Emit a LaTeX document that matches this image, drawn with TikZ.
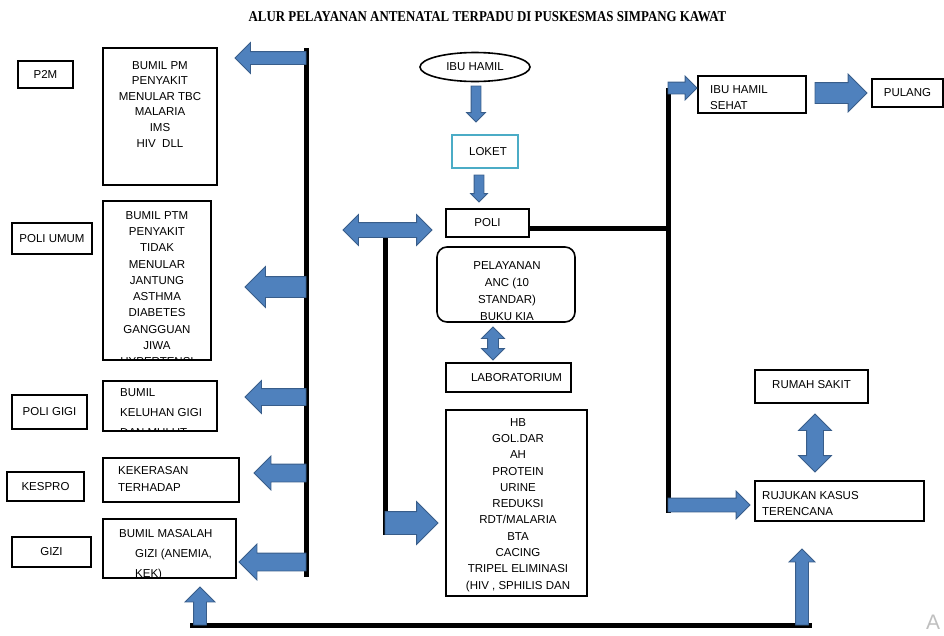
\documentclass[tikz,border=0pt]{standalone}
\usepackage{fontspec}
\setmainfont{Liberation Sans}
\newfontfamily\judulfont{Liberation Serif}[FakeStretch=0.86]
\usepackage{tikz}
\usetikzlibrary{calc}
\usetikzlibrary{positioning}
\usetikzlibrary{shapes.geometric}
\usetikzlibrary{shapes.arrows}
\usetikzlibrary{backgrounds}

\definecolor{biru}{RGB}{79,129,189}
\definecolor{biruTua}{RGB}{56,93,138}
\definecolor{tosca}{RGB}{75,172,198}

\tikzset{
    kotak/.style={rectangle, draw=black, line width=1.6pt, inner sep=0pt, outer sep=0pt},
    teks/.style={font=\fontsize{11.5}{16.3}\selectfont, inner sep=0pt},
    blok/.style={single arrow, draw=biruTua, fill=biru, line width=0.8pt, outer sep=0pt, anchor=tail},
    blokdua/.style={double arrow, draw=biruTua, fill=biru, line width=0.8pt, outer sep=0pt},
    garis/.style={line width=5pt, black}
}

\begin{document}
\begin{tikzpicture}[x=1pt, y=-1pt]
    \useasboundingbox (0,0) rectangle (944,635);

    \node [font=\judulfont\bfseries\fontsize{15}{15}\selectfont, inner sep=0pt] (judul) at (487.5,16.5) {ALUR PELAYANAN ANTENATAL TERPADU DI PUSKESMAS SIMPANG KAWAT};

    % kolom kiri
    \node [kotak, teks, minimum width=55pt, minimum height=27pt] (p2m) at (45.5,74.5) {P2M};
    \node [kotak, teks, minimum width=80pt, minimum height=31pt] (poliUmum) at (52,238.5) {POLI UMUM};
    \node [kotak, teks, minimum width=75pt, minimum height=34pt] (poliGigi) at (49.5,412) {POLI GIGI};
    \node [kotak, teks, minimum width=77pt, minimum height=29pt] (kespro) at (45.5,486.5) {KESPRO};
    \node [kotak, teks, minimum width=79pt, minimum height=30pt] (gizi) at (51.5,552) {GIZI};

    \node [kotak, minimum width=114pt, minimum height=137pt] (bumilPM) at (160,116.5) {};
    \node [teks, align=center, anchor=north, font=\fontsize{11.5}{15.6}\selectfont] (teksPM) at (160,61) {BUMIL PM\\PENYAKIT\\MENULAR TBC\\MALARIA\\IMS\\HIV\ \ DLL};

    \node [kotak, minimum width=108pt, minimum height=159pt] (bumilPTM) at (157,280.5) {};
    \begin{scope}
        \clip (bumilPTM.south west) rectangle (bumilPTM.north east);
        \node [teks, align=center, anchor=north] (teksPTM) at (157,211) {BUMIL PTM\\PENYAKIT\\TIDAK\\MENULAR\\JANTUNG\\ASTHMA\\DIABETES\\GANGGUAN\\JIWA\\HYPERTENSI};
    \end{scope}

    \node [kotak, minimum width=114pt, minimum height=50pt] (bumilGigi) at (160,406) {};
    \begin{scope}
        \clip (bumilGigi.south west) rectangle (bumilGigi.north east);
        \node [teks, align=left, anchor=north west, font=\fontsize{11.5}{20}\selectfont] (teksGigi) at (120,388) {BUMIL\\KELUHAN GIGI\\DAN MULUT};
    \end{scope}

    \node [kotak, minimum width=136pt, minimum height=44pt] (kekerasan) at (171,480) {};
    \node [teks, align=left, anchor=north west, font=\fontsize{11.5}{17}\selectfont] (teksKekerasan) at (118,466) {KEKERASAN\\TERHADAP};

    \node [kotak, minimum width=133pt, minimum height=59pt] (bumilGizi) at (169.5,548.5) {};
    \begin{scope}
        \clip (bumilGizi.south west) rectangle (bumilGizi.north east);
        \node [teks, align=left, anchor=north west, font=\fontsize{11.5}{20}\selectfont] (teksGizi) at (119,529) {BUMIL MASALAH\\\hspace*{16pt}GIZI (ANEMIA,\\\hspace*{16pt}KEK)};
    \end{scope}

    % alur tengah
    \node [ellipse, draw=black, line width=1.6pt, teks, minimum width=110pt, minimum height=29pt] (ibuHamil) at (475,67) {IBU HAMIL};
    \node [kotak, draw=tosca, teks, minimum width=66pt, minimum height=33pt] (loket) at (485,151.5) {\hspace{6pt}LOKET};
    \node [kotak, teks, minimum width=83pt, minimum height=28pt] (poli) at (487.5,223) {POLI};

    \node [kotak, rounded corners=10pt, minimum width=138pt, minimum height=75pt] (anc) at (506,284.5) {};
    \begin{scope}
        \clip (anc.south west) rectangle (anc.north east);
        \node [teks, align=center, anchor=north, font=\fontsize{11.5}{17}\selectfont] (teksAnc) at (507,261) {PELAYANAN\\ANC (10\\STANDAR)\\BUKU KIA};
    \end{scope}

    \node [kotak, teks, minimum width=125pt, minimum height=29pt] (lab) at (508.5,377.5) {\hspace{16pt}LABORATORIUM};

    \node [kotak, minimum width=141pt, minimum height=186pt] (hb) at (516.5,503) {};
    \node [teks, align=center, anchor=north] (teksHb) at (518,418) {HB\\GOL.DAR\\AH\\PROTEIN\\URINE\\REDUKSI\\RDT/MALARIA\\BTA\\CACING\\TRIPEL ELIMINASI\\(HIV , SPHILIS DAN};

    % kolom kanan
    \node [kotak, minimum width=108pt, minimum height=37pt] (sehat) at (752,94.5) {};
    \begin{scope}
        \clip (sehat.south west) rectangle (sehat.north east);
        \node [teks, align=left, anchor=north west, font=\fontsize{11.5}{16}\selectfont] (teksSehat) at (710,85) {IBU HAMIL\\SEHAT};
    \end{scope}
    \node [kotak, teks, minimum width=71pt, minimum height=28pt] (pulang) at (907.5,93) {PULANG};
    \node [kotak, teks, minimum width=113pt, minimum height=33pt] (rs) at (811.5,386.5) {\raisebox{4pt}{RUMAH SAKIT}};
    \node [kotak, minimum width=169pt, minimum height=40pt] (rujukan) at (839.5,501) {};
    \node [teks, align=left, anchor=north west, font=\fontsize{11.5}{16}\selectfont] (teksRujukan) at (762,491) {RUJUKAN KASUS\\TERENCANA};

    % panah blok (diletakkan di ekornya)
    \node [blok, shape border rotate=180, inner sep=6pt, minimum height=71pt, minimum width=30pt, single arrow head extend=9pt] (kiri1) at (306,58) {};
    \node [blok, shape border rotate=180, inner sep=10pt, minimum height=61pt, minimum width=40pt, single arrow head extend=10pt] (kiri2) at (306,287) {};
    \node [blok, shape border rotate=180, inner sep=8pt, minimum height=61pt, minimum width=32pt, single arrow head extend=8pt] (kiri3) at (306,397) {};
    \node [blok, shape border rotate=180, inner sep=8.5pt, minimum height=52pt, minimum width=33pt, single arrow head extend=8pt] (kiri4) at (306,473) {};
    \node [blok, shape border rotate=180, inner sep=8.5pt, minimum height=67pt, minimum width=35pt, single arrow head extend=9pt] (kiri5) at (306,562) {};

    \node [blok, shape border rotate=90, inner sep=6pt, minimum height=38pt, minimum width=29pt, single arrow head extend=8.5pt] (atas1) at (200,625) {};
    \node [blok, shape border rotate=90, inner sep=6pt, minimum height=76pt, minimum width=25pt, single arrow head extend=6.5pt] (atas2) at (802,625) {};

    \node [blok, shape border rotate=270, inner sep=4.5pt, minimum height=36pt, minimum width=18pt, single arrow head extend=4.5pt] (turun1) at (476,86) {};
    \node [blok, shape border rotate=270, inner sep=4.5pt, minimum height=27pt, minimum width=16pt, single arrow head extend=3.5pt] (turun2) at (479,175) {};

    \node [blokdua, inner sep=7pt, minimum height=89pt, minimum width=30pt, double arrow head extend=8pt] (dobel) at (387.5,230) {};
    \node [blokdua, shape border rotate=90, inner sep=5pt, minimum height=33pt, minimum width=22pt, double arrow head extend=6pt] (dobelLab) at (493,343.5) {};
    \node [blokdua, shape border rotate=90, inner sep=8pt, minimum height=58pt, minimum width=32pt, double arrow head extend=8pt] (dobelRs) at (815,443) {};

    \node [blok, inner sep=11pt, minimum height=53pt, minimum width=42pt, single arrow head extend=10pt] (kanan1) at (385,523) {};
    \node [blok, inner sep=5.5pt, minimum height=29pt, minimum width=23pt, single arrow head extend=6pt] (kanan2) at (668,88) {};
    \node [blok, inner sep=10pt, minimum height=52pt, minimum width=37pt, single arrow head extend=8.5pt] (kanan3) at (815,93) {};
    \node [blok, inner sep=6.5pt, minimum height=82pt, minimum width=27pt, single arrow head extend=7pt] (kanan4) at (668,505) {};

    % garis hitam
    \coordinate (poliKanan) at ([yshift=-5pt]poli.east);
    \begin{scope}[on background layer]
        \draw [garis] ($(kiri1.tail)+(0,-10)$) -- ($(kiri5.tail)+(0,15)$);
        \draw [garis] (poliKanan) -- (kanan2.tail |- poliKanan);
        \draw [garis] (kanan2.tail) -- ($(kanan4.tail)+(0,8)$);
        \draw [garis] (kanan1.tail |- dobel.center) -- ($(kanan1.tail)+(0,12)$);
        \draw [garis] ($(atas1.tail)+(-10,0)$) -- ($(atas2.tail)+(10,0)$);
    \end{scope}

    \node [text=black!25, font=\fontsize{21}{21}\selectfont, anchor=west, inner sep=0pt] (tanda) at (926,622) {A};
\end{tikzpicture}
\end{document}
